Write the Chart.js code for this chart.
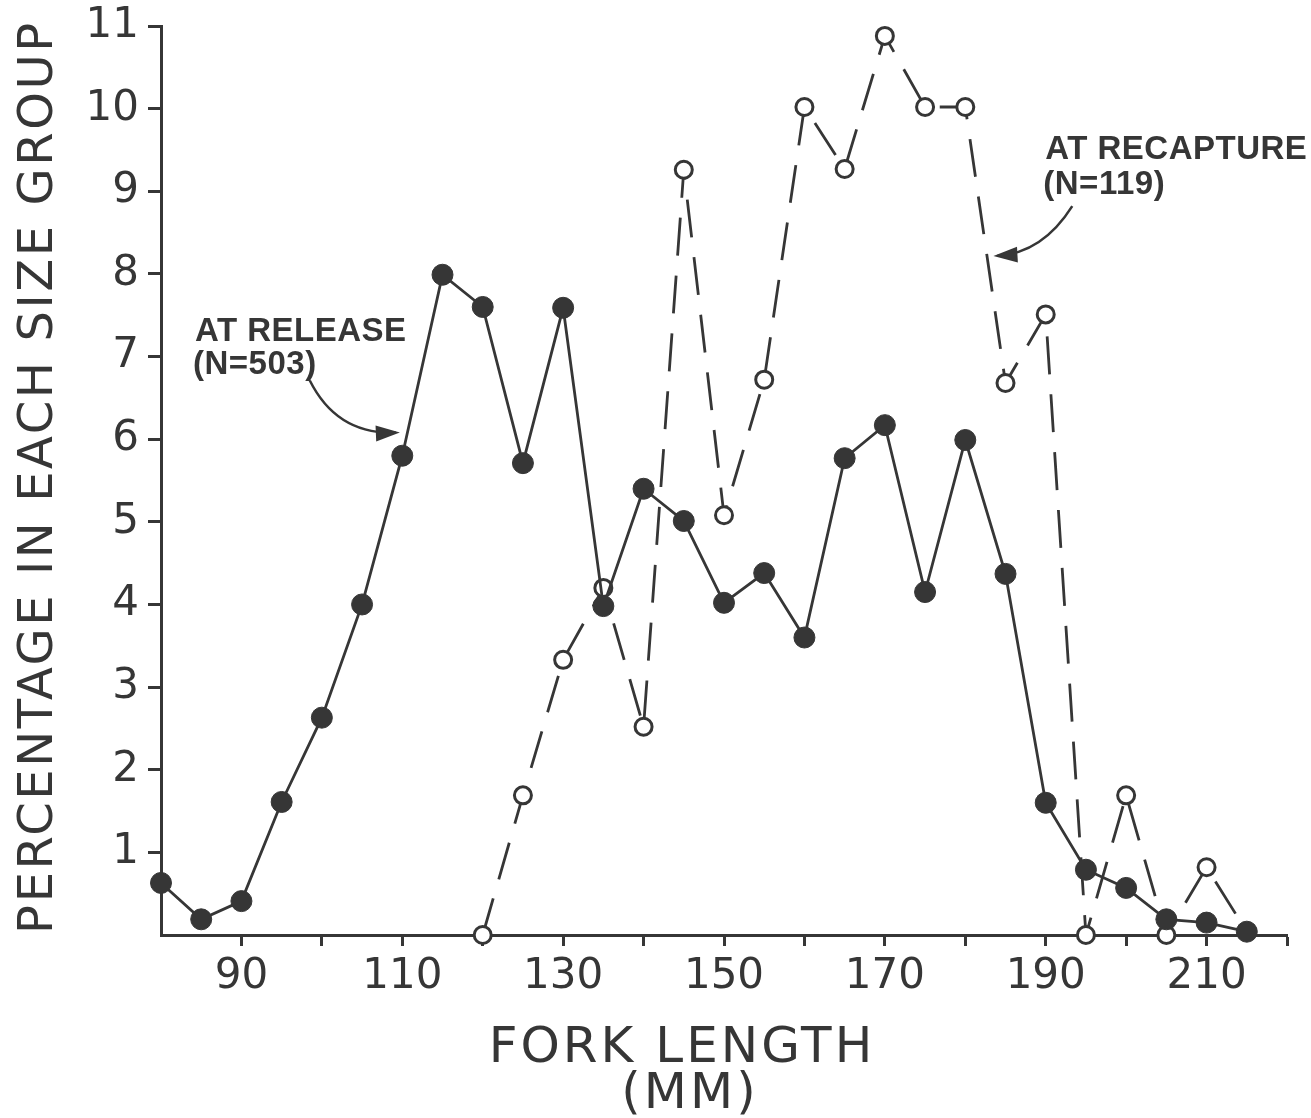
<!DOCTYPE html>
<html>
<head>
<meta charset="utf-8">
<script src="https://cdn.jsdelivr.net/npm/chart.js@4.4.1/dist/chart.umd.min.js"></script>
<style>
  html, body { margin: 0; padding: 0; background: #ffffff; }
  #wrap { width: 1311px; height: 1118px; }
</style>
</head>
<body>
<div id="wrap"><canvas id="c" width="1311" height="1118"></canvas></div>
<script>
// ---- data ----
const releaseLength = [80, 85, 90, 95, 100, 105, 110, 115, 120, 125, 130, 135, 140, 145, 150, 155, 160, 165, 170, 175, 180, 185, 190, 195, 200, 205, 210, 215];
const releasePct    = [0.63, 0.19, 0.41, 1.61, 2.63, 4.0, 5.8, 7.99, 7.6, 5.71, 7.59, 3.98, 5.4, 5.01, 4.02, 4.38, 3.6, 5.77, 6.17, 4.15, 5.99, 4.37, 1.6, 0.79, 0.57, 0.19, 0.15, 0.04];
const recaptureLength = [120, 125, 130, 135, 140, 145, 150, 155, 160, 165, 170, 175, 180, 185, 190, 195, 200, 205, 210, 215];
const recapturePct    = [0, 1.69, 3.33, 4.2, 2.52, 9.26, 5.08, 6.72, 10.02, 9.27, 10.88, 10.02, 10.02, 6.68, 7.51, 0, 1.69, 0, 0.82, 0.04];
const xTickLabels = [90, 110, 130, 150, 170, 190, 210];
const yTickLabels = [1, 2, 3, 4, 5, 6, 7, 8, 9, 10, 11];
const yAxisTitle = 'PERCENTAGE IN EACH SIZE GROUP';
const xAxisTitle = ['FORK LENGTH', '(MM)'];
const releaseNote = ['AT RELEASE', '(N=503)'];
const recaptureNote = ['AT RECAPTURE', '(N=119)'];

const INK = '#363636';
const FONT = '"DejaVu Sans", "Liberation Sans", sans-serif';

const toXY = (xs, ys) => xs.map((x, i) => ({ x: x, y: ys[i] }));

// annotations, titles and arrows drawn through the chart's scales
const decorPlugin = {
  id: 'decor',
  afterDraw(chart) {
    const ctx = chart.ctx;
    const xs = chart.scales.x, ys = chart.scales.y;
    const P = (x, y) => [xs.getPixelForValue(x), ys.getPixelForValue(y)];
    ctx.save();
    ctx.fillStyle = INK;
    ctx.strokeStyle = INK;

    // y axis title (rotated)
    ctx.save();
    ctx.font = '48px ' + FONT;
    ctx.letterSpacing = '2.6px';
    ctx.textAlign = 'center';
    ctx.textBaseline = 'alphabetic';
    ctx.translate(52, 477);
    ctx.rotate(-Math.PI / 2);
    ctx.fillText(yAxisTitle, 0, 0);
    ctx.restore();

    // x axis title (two lines)
    ctx.save();
    ctx.font = '50px ' + FONT;
    ctx.letterSpacing = '3px';
    ctx.textAlign = 'center';
    ctx.textBaseline = 'alphabetic';
    ctx.fillText(xAxisTitle[0], 682, 1062);
    ctx.fillText(xAxisTitle[1], 690, 1108);
    ctx.restore();

    // notes
    ctx.save();
    ctx.font = 'bold 33px "Liberation Sans", ' + FONT;
    ctx.letterSpacing = '0.5px';
    ctx.textAlign = 'left';
    ctx.textBaseline = 'alphabetic';
    let p = P(84.23, 7.19); ctx.fillText(releaseNote[0], p[0], p[1]);
    p = P(83.98, 6.79);     ctx.fillText(releaseNote[1], p[0], p[1]);
    p = P(189.95, 9.39);    ctx.fillText(recaptureNote[0], p[0], p[1]);
    p = P(189.7, 8.97);     ctx.fillText(recaptureNote[1], p[0], p[1]);
    ctx.restore();

    // curved arrows
    const arrow = (a, c, b) => {
      const A = P(a[0], a[1]), C = P(c[0], c[1]), B = P(b[0], b[1]);
      ctx.beginPath();
      ctx.lineWidth = 2.5;
      ctx.moveTo(A[0], A[1]);
      ctx.quadraticCurveTo(C[0], C[1], B[0], B[1]);
      ctx.stroke();
      const ang = Math.atan2(B[1] - C[1], B[0] - C[0]);
      const L = 20, W = 8;
      ctx.beginPath();
      ctx.moveTo(B[0] + Math.cos(ang) * 4, B[1] + Math.sin(ang) * 4);
      ctx.lineTo(B[0] - Math.cos(ang) * L + Math.sin(ang) * W, B[1] - Math.sin(ang) * L - Math.cos(ang) * W);
      ctx.lineTo(B[0] - Math.cos(ang) * L - Math.sin(ang) * W, B[1] - Math.sin(ang) * L + Math.cos(ang) * W);
      ctx.closePath();
      ctx.fill();
    };
    arrow([98.5, 6.71], [101.9, 6.05], [109.2, 6.08]);
    arrow([193.3, 8.82], [189.6, 8.25], [184.0, 8.22]);
    ctx.restore();
  }
};

new Chart(document.getElementById('c'), {
  type: 'line',
  data: {
    datasets: [
      {
        label: 'At release',
        data: toXY(releaseLength, releasePct),
        borderColor: INK,
        borderWidth: 2.8,
        pointRadius: 10.5,
        pointBackgroundColor: INK,
        pointBorderColor: INK,
        pointBorderWidth: 1,
        tension: 0,
        clip: false
      },
      {
        label: 'At recapture',
        data: toXY(recaptureLength, recapturePct),
        borderColor: INK,
        borderWidth: 2.8,
        borderDash: [38, 20],
        pointRadius: 8.5,
        pointBackgroundColor: '#ffffff',
        pointBorderColor: INK,
        pointBorderWidth: 3,
        tension: 0,
        clip: false
      }
    ]
  },
  options: {
    responsive: false,
    devicePixelRatio: 1,
    animation: false,
    events: [],
    layout: { padding: { left: 0, right: 24, top: 26, bottom: 0 } },
    plugins: { legend: { display: false }, tooltip: { enabled: false }, title: { display: false } },
    scales: {
      x: {
        type: 'linear',
        position: 'bottom',
        min: 80,
        max: 220,
        afterFit(s) { s.height = 183; s.paddingLeft = 0; s.paddingRight = 0; },
        afterBuildTicks(s) {
          const t = [];
          for (let v = 80; v <= 220; v += 10) t.push({ value: v });
          s.ticks = t;
        },
        ticks: {
          autoSkip: false,
          maxRotation: 0,
          padding: 6,
          color: INK,
          font: { family: FONT, size: 42 },
          callback: (v) => xTickLabels.includes(v) ? String(v) : ''
        },
        grid: {
          drawOnChartArea: false,
          drawTicks: true,
          tickLength: 11,
          tickWidth: 3,
          tickColor: (c) => (c.tick && c.tick.value === 80) ? 'rgba(0,0,0,0)' : INK
        },
        border: { display: true, width: 3, color: INK }
      },
      y: {
        type: 'linear',
        min: 0,
        max: 11,
        afterFit(s) { s.width = 161; s.paddingTop = 0; s.paddingBottom = 0; },
        afterBuildTicks(s) {
          s.ticks = [{ value: 0 }].concat(yTickLabels.map(v => ({ value: v })));
        },
        ticks: {
          autoSkip: false,
          padding: 9,
          color: INK,
          font: { family: FONT, size: 42 },
          callback: (v) => yTickLabels.includes(v) ? String(v) : ''
        },
        grid: {
          drawOnChartArea: false,
          drawTicks: true,
          tickLength: 13,
          tickWidth: 3,
          tickColor: (c) => (c.tick && c.tick.value === 0) ? 'rgba(0,0,0,0)' : INK
        },
        border: { display: true, width: 3, color: INK }
      }
    }
  },
  plugins: [decorPlugin]
});
</script>
</body>
</html>
